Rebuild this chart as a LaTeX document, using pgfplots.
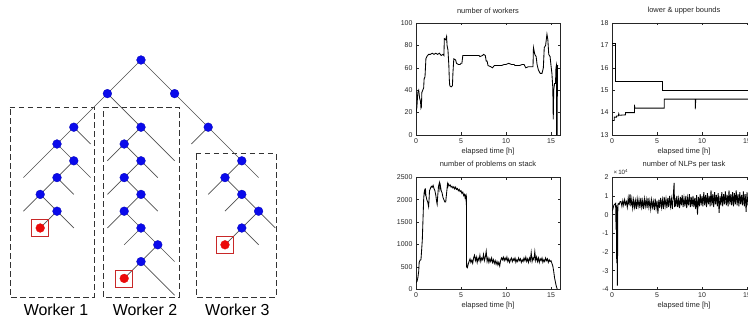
\documentclass[border=0pt]{standalone}
\usepackage{fontspec}
\setmainfont{Liberation Sans}
\usepackage{pgfplots}
\pgfplotsset{compat=1.18}
\definecolor{treeline}{RGB}{80,80,80}
\definecolor{nodeblue}{RGB}{10,10,235}
\definecolor{nodered}{RGB}{235,10,10}
\definecolor{boxred}{RGB}{200,40,40}
\pgfplotsset{
  mstyle/.style={
    scale only axis, width=144bp, height=112bp, anchor=south west,
    xmin=0, xmax=16, xtick={0,5,10,15},
    tick align=inside, major tick length=2.5bp,
    /pgf/number format/assume math mode=true,
    /pgf/number format/1000 sep={},
    scaled y ticks=false,
    tick label style={font=\fontsize{7}{8}\selectfont, text=black!85},
    title style={font=\fontsize{7.5}{8}\selectfont, at={(0.5,1)}, anchor=south, yshift=3bp, inner sep=0pt, text=black!85},
    xlabel style={font=\fontsize{7.5}{8}\selectfont, at={(0.5,0)}, anchor=north, yshift=-12.5bp, inner sep=0pt, text=black!85},
    xlabel={elapsed time [h]},
    axis line style={line width=0.7bp, black!85},
    every tick/.style={black!85, line width=0.5bp},
    clip mode=individual,
  },
  dl/.style={black, line width=0.85bp, mark=none},
  tl/.style={treeline, line width=0.7bp, mark=none, forget plot},
  bx/.style={black!80, line width=0.65bp, dash pattern=on 5.5bp off 3.5bp, mark=none, forget plot},
}
\begin{document}
\begin{tikzpicture}
\useasboundingbox (0bp,0bp) rectangle (748bp,320bp);
\clip (0bp,0bp) rectangle (748bp,320bp);
\fill[white] (0bp,0bp) rectangle (748bp,320bp);

% ---------------- tree diagram ----------------
\begin{axis}[at={(-10.2bp,8bp)}, anchor=south west, x=16.8bp, y=16.8bp,
  xmin=-9, xmax=9, ymin=-15, ymax=1, axis lines=none, clip=false]
\addplot[bx] coordinates {(-7.8,-2.8) (-2.8,-2.8) (-2.8,-14.1) (-7.8,-14.1) (-7.8,-2.8)};
\addplot[bx] coordinates {(-2.26,-2.8) (2.26,-2.8) (2.26,-14.1) (-2.26,-14.1) (-2.26,-2.8)};
\addplot[bx] coordinates {(3.27,-5.55) (8.04,-5.55) (8.04,-14.1) (3.27,-14.1) (3.27,-5.55)};
\addplot[only marks, mark=*, mark size=4.4bp, mark options={fill=nodeblue, draw=nodeblue!80!black, line width=0.3bp}, forget plot] coordinates {
 (0,0) (-2,-2) (2,-2) (4,-4) (-4,-4) (0,-4) (6,-6)
 (-5,-5) (-4,-6) (-5,-7) (-6,-8) (-5,-9)
 (-1,-5) (0,-6) (-1,-7) (0,-8) (-1,-9) (0,-10) (1,-11) (0,-12)
 (5,-7) (6,-8) (7,-9) (6,-10)};
\addplot[only marks, mark=*, mark size=4.4bp, mark options={fill=nodered, draw=nodered, line width=0.3bp}, forget plot] coordinates {(-6,-10) (-1,-13) (5,-11)};
\addplot[only marks, mark=square, mark size=8.5bp, mark options={draw=boxred, line width=0.6bp}, forget plot] coordinates {(-6,-10) (-1,-13) (5,-11)};
\addplot[tl] coordinates {(0,0) (-7,-7)};
\addplot[tl] coordinates {(0,0) (7,-7)};
\addplot[tl] coordinates {(-2,-2) (2,-6)};
\addplot[tl] coordinates {(4,-4) (3,-5)};
\addplot[tl] coordinates {(-4,-4) (-3,-5)};
\addplot[tl] coordinates {(-5,-5) (-3,-7)};
\addplot[tl] coordinates {(-4,-6) (-7,-9)};
\addplot[tl] coordinates {(-5,-7) (-4,-8)};
\addplot[tl] coordinates {(-6,-8) (-4,-10)};
\addplot[tl] coordinates {(-5,-9) (-6,-10)};
\addplot[tl] coordinates {(0,-4) (-2,-6)};
\addplot[tl] coordinates {(-1,-5) (1,-7)};
\addplot[tl] coordinates {(0,-6) (-2,-8)};
\addplot[tl] coordinates {(-1,-7) (1,-9)};
\addplot[tl] coordinates {(0,-8) (-2,-10)};
\addplot[tl] coordinates {(-1,-9) (2,-12)};
\addplot[tl] coordinates {(0,-10) (-1,-11)};
\addplot[tl] coordinates {(1,-11) (-1,-13)};
\addplot[tl] coordinates {(0,-12) (2,-14)};
\addplot[tl] coordinates {(6,-6) (4,-8)};
\addplot[tl] coordinates {(5,-7) (8,-10)};
\addplot[tl] coordinates {(6,-8) (5,-9)};
\addplot[tl] coordinates {(7,-9) (5,-11)};
\addplot[tl] coordinates {(6,-10) (7,-11)};
\node[font=\fontsize{16}{18}\selectfont] at (axis cs:-5.06,-14.88) {Worker 1};
\node[font=\fontsize{16}{18}\selectfont] at (axis cs:0.24,-14.88) {Worker 2};
\node[font=\fontsize{16}{18}\selectfont] at (axis cs:5.74,-14.88) {Worker 3};
\end{axis}

% ---------------- number of workers ----------------
\begin{axis}[mstyle, at={(416bp,185bp)}, ymin=0, ymax=100, ytick={0,20,40,60,80,100},
  title={number of workers}]
\addplot[dl] coordinates {
(0,20) (0.1,25) (0.2,38) (0.3,40) (0.4,33) (0.5,30) (0.55,24) (0.6,25) (0.65,38) (0.75,40)
(0.85,42) (0.9,50) (1.0,52) (1.05,60) (1.1,68) (1.2,70) (1.4,72) (1.6,72) (1.8,73) (2.0,72)
(2.2,73) (2.4,72) (2.6,73) (2.8,71) (3.0,72) (3.1,71) (3.15,86) (3.3,85) (3.4,88) (3.45,80)
(3.55,76) (3.65,62) (3.7,50) (3.75,44) (3.9,43) (4.05,44) (4.1,55) (4.2,68) (4.4,67) (4.5,64)
(4.7,63) (4.9,63) (5.0,64) (5.1,64) (5.2,71) (5.5,71) (6.0,71) (6.5,71) (7.0,71) (7.1,70)
(7.4,71) (7.5,72) (7.7,71) (7.8,66) (7.9,66) (8.0,62) (8.3,61) (8.5,60) (8.7,62) (9.0,62)
(9.5,62) (9.8,63) (10.0,63) (10.3,64) (10.6,63) (10.9,63) (11.0,62) (11.5,62) (11.8,63) (12.0,63)
(12.2,60) (12.5,61) (12.8,61) (13.0,61) (13.05,78) (13.2,72) (13.35,70) (13.45,63) (13.6,58) (13.8,55)
(14.0,55) (14.15,60) (14.25,78) (14.4,80) (14.55,90) (14.65,85) (14.75,72) (14.9,70) (15.0,62) (15.1,55)
(15.2,42) (15.25,14) (15.3,40) (15.4,46) (15.5,46) (15.55,60) (15.6,62) (15.62,0) (15.68,0) (15.72,62) (15.8,62)};
\end{axis}

% ---------------- lower & upper bounds ----------------
\begin{axis}[mstyle, at={(612bp,185bp)}, ymin=13, ymax=18, ytick={13,14,15,16,17,18},
  title={lower \& upper bounds}]
\addplot[dl] coordinates {(0,17.1) (0.4,17.1) (0.4,15.4) (5.6,15.4) (5.6,15.0) (16,15.0)};
\addplot[dl] coordinates {(0,13.65) (0.25,13.65) (0.25,13.8) (0.5,13.8) (0.5,13.85) (0.7,13.85)
 (0.75,13.95) (0.8,13.88) (1.5,13.9) (1.5,14.0) (2.5,14.0) (2.5,14.35) (2.52,14.2) (5.8,14.2)
 (5.8,14.6) (9.25,14.6) (9.25,14.15) (9.3,14.55) (9.3,14.6) (16,14.6)};
\end{axis}

% ---------------- number of problems on stack ----------------
\begin{axis}[mstyle, at={(416bp,30.7bp)}, ymin=0, ymax=2500, ytick={0,500,1000,1500,2000,2500},
  title={number of problems on stack}]
\addplot[dl] coordinates {
(0,150) (0.1,170) (0.2,250) (0.3,400) (0.35,600) (0.45,650) (0.55,660) (0.6,800) (0.7,1100) (0.75,1400)
(0.8,1700) (0.85,2000) (0.9,2150) (0.95,2200) (1.0,2150) (1.05,2250) (1.1,2100) (1.2,2000) (1.3,1950) (1.4,1850)
(1.45,2000) (1.5,2200) (1.6,2250) (1.7,2300) (1.8,2280) (1.9,2320) (2.0,2250) (2.1,2200) (2.2,2100) (2.3,1950)
(2.35,1900) (2.4,2050) (2.5,2300) (2.6,2380) (2.65,2250) (2.7,2320) (2.8,2200) (2.9,2150) (3.0,2050) (3.1,2000)
(3.2,1950) (3.3,1950) (3.4,2150) (3.5,2350) (3.55,2300) (3.6,2350) (3.7,2310) (3.8,2330) (3.9,2280) (4.0,2300)
(4.1,2260) (4.2,2290) (4.3,2240) (4.4,2280) (4.5,2230) (4.6,2250) (4.7,2200) (4.8,2230) (4.9,2180) (5.0,2200)
(5.1,2140) (5.2,2170) (5.3,2090) (5.4,2120) (5.45,2050) (5.5,2080) (5.55,2000) (5.6,2050) (5.62,500) (5.7,480)
(5.8,560) (5.9,620) (6.0,680) (6.1,600) (6.2,650) (6.3,580) (6.4,700) (6.5,760) (6.6,640) (6.7,720)
(6.8,600) (6.9,700) (7.0,640) (7.1,760) (7.2,620) (7.3,700) (7.4,660) (7.5,780) (7.6,640) (7.7,720)
(7.8,850) (7.9,620) (8.0,700) (8.1,600) (8.2,680) (8.3,620) (8.4,700) (8.5,600) (8.6,660) (8.7,580)
(8.8,640) (8.9,560) (9.0,620) (9.1,540) (9.2,600) (9.3,520) (9.4,640) (9.5,700) (9.6,660) (9.7,720)
(9.8,640) (9.9,700) (10.0,650) (10.1,720) (10.2,620) (10.3,680) (10.4,600) (10.5,660) (10.6,700) (10.7,620)
(10.8,680) (10.9,640) (11.0,700) (11.1,600) (11.2,660) (11.3,620) (11.4,700) (11.5,640) (11.6,680) (11.7,600)
(11.8,660) (11.9,620) (12.0,700) (12.1,640) (12.2,720) (12.3,620) (12.4,680) (12.5,600) (12.6,700) (12.7,640)
(12.8,820) (12.9,620) (13.0,700) (13.1,660) (13.2,840) (13.3,640) (13.4,720) (13.5,620) (13.6,700) (13.7,600)
(13.8,680) (13.9,640) (14.0,700) (14.1,600) (14.2,660) (14.3,620) (14.4,700) (14.5,640) (14.6,680) (14.7,600)
(14.8,660) (14.9,620) (15.0,640) (15.1,580) (15.2,520) (15.3,400) (15.4,250) (15.5,150) (15.6,60) (15.7,0)};
\end{axis}

% ---------------- number of NLPs per task ----------------
\begin{axis}[mstyle, at={(612bp,30.7bp)}, ymin=-4, ymax=2, ytick={-4,-3,-2,-1,0,1,2},
  title={number of NLPs per task}]
\addplot[dl] coordinates {
(0,0.2) (0.1,0.3) (0.2,0.5) (0.3,0.55) (0.4,0.6) (0.45,-0.8) (0.5,0.5) (0.52,-2.6) (0.55,0.4) (0.6,-3.8)
(0.65,0.5) (0.7,0.6) (0.8,0.55) (0.9,0.7)
(1.0,0.7) (1.1,0.45) (1.2,0.75) (1.3,0.5) (1.4,0.8) (1.5,0.55) (1.6,0.7) (1.7,0.4) (1.8,0.9) (1.9,0.5)
(2.0,1.1) (2.1,0.45) (2.2,0.85) (2.3,0.35) (2.4,0.8) (2.5,0.4) (2.6,0.75) (2.7,0.3) (2.8,0.85) (2.9,0.45)
(3.0,0.8) (3.1,0.35) (3.2,0.9) (3.3,0.4) (3.4,0.75) (3.5,0.3) (3.6,0.85) (3.7,0.45) (3.8,0.8) (3.9,0.35)
(4.0,0.9) (4.1,0.4) (4.2,0.75) (4.3,0.3) (4.4,0.8) (4.5,0.4) (4.6,0.7) (4.7,0.25) (4.8,0.85) (4.9,0.35)
(5.0,0.75) (5.1,0.05) (5.2,0.8) (5.3,0.35) (5.4,0.9) (5.5,0.4) (5.6,0.8) (5.7,0.3) (5.8,0.95) (5.9,0.45)
(6.0,0.85) (6.1,0.35) (6.2,0.9) (6.3,0.4) (6.4,1.0) (6.5,0.45) (6.6,0.85) (6.7,0.3) (6.8,0.95) (6.9,1.7)
(6.95,0.4) (7.0,0.9) (7.1,0.45) (7.2,1.0) (7.3,0.4) (7.4,0.85) (7.5,0.35) (7.6,0.95) (7.7,0.5) (7.8,1.05)
(7.9,0.4) (8.0,0.9) (8.1,0.45) (8.2,1.0) (8.3,0.35) (8.4,0.9) (8.5,0.5) (8.6,1.1) (8.7,0.4) (8.8,0.95)
(8.9,0.45) (9.0,1.0) (9.1,0.4) (9.2,0.9) (9.3,0.3) (9.4,1.05) (9.5,0.0) (9.6,0.95) (9.7,0.45) (9.8,1.1)
(9.9,0.5) (10.0,1.0) (10.1,0.45) (10.2,1.2) (10.3,0.5) (10.4,1.05) (10.5,0.4) (10.6,1.15) (10.7,0.55) (10.8,1.0)
(10.9,0.45) (11.0,1.3) (11.1,0.5) (11.2,1.1) (11.3,0.4) (11.4,1.2) (11.5,0.55) (11.6,1.05) (11.7,0.45) (11.8,1.15)
(11.9,0.1) (12.0,1.0) (12.1,0.5) (12.2,1.2) (12.3,0.45) (12.4,1.1) (12.5,0.55) (12.6,1.25) (12.7,0.5) (12.8,1.05)
(12.9,0.45) (13.0,1.3) (13.1,0.55) (13.2,1.1) (13.3,0.5) (13.4,1.2) (13.5,0.45) (13.6,1.15) (13.7,0.55) (13.8,1.3)
(13.9,0.5) (14.0,1.1) (14.1,0.45) (14.2,1.2) (14.3,0.55) (14.4,1.05) (14.5,0.5) (14.6,1.25) (14.7,0.45) (14.8,1.1)
(14.9,0.15) (15.0,1.2) (15.1,0.5) (15.2,1.1) (15.3,0.55) (15.4,1.25) (15.5,0.5) (15.6,1.1) (15.7,0.6) (15.8,1.2)
(15.9,0.55) (16.0,1.0)};
\node[font=\fontsize{6.2}{7}\selectfont, text=black!85, anchor=south west, inner sep=0pt] at (rel axis cs:0.01,1.02) {×\,10\textsuperscript{4}};
\end{axis}
\end{tikzpicture}
\end{document}
